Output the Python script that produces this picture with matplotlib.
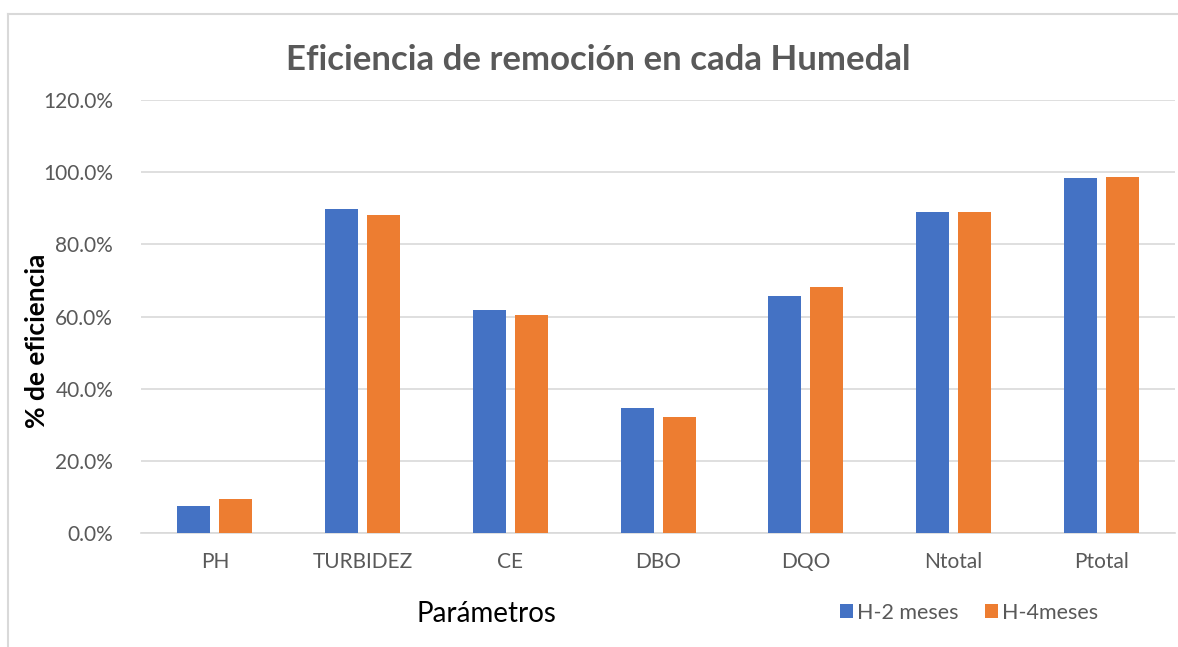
import numpy as np
import matplotlib.pyplot as plt
from matplotlib.lines import Line2D
from matplotlib.ticker import FuncFormatter

categories = ["PH", "TURBIDEZ", "CE", "DBO", "DQO", "Ntotal", "Ptotal"]
h2_meses = [7.5, 89.7, 61.8, 34.6, 65.8, 89.1, 98.3]
h4_meses = [9.3, 88.1, 60.4, 32.2, 68.3, 88.9, 98.6]
series_names = ["H-2 meses", "H-4meses"]

plt.rcParams['font.family'] = ['Lato', 'DejaVu Sans']
gray = "#595959"

fig = plt.figure(figsize=(11.78, 6.47), dpi=100)
ax = fig.add_axes([0.1197, 0.1762, 0.878, 0.6692])

x = np.arange(len(categories))
w = 0.224
ax.bar(x - 0.142, np.array(h2_meses) / 100, w, color="#4472C4", label=series_names[0], zorder=3)
ax.bar(x + 0.142, np.array(h4_meses) / 100, w, color="#ED7D31", label=series_names[1], zorder=3)

ax.set_ylim(0, 1.2)
ax.set_xlim(-0.5, len(categories) - 0.5)
ax.set_yticks(np.arange(0, 1.21, 0.2))
ax.yaxis.set_major_formatter(FuncFormatter(lambda v, p: "{:.1f}%".format(v * 100)))
ax.grid(axis="y", color="#d9d9d9", linewidth=1.2, zorder=0)
ax.set_xticks(x)
ax.set_xticklabels(categories)
ax.tick_params(axis="both", length=0, labelsize=15, labelcolor=gray)
ax.tick_params(axis="x", pad=14)
ax.tick_params(axis="y", pad=20)
for s in ["top", "right", "left"]:
    ax.spines[s].set_visible(False)
ax.spines["bottom"].set_color("#d9d9d9")
ax.spines["bottom"].set_linewidth(1.2)

fig.text(0.508, 0.907, "Eficiencia de remoción en cada Humedal", ha="center", va="center",
         fontsize=25, fontweight="bold", color=gray)
fig.text(0.031, 0.474, "% de eficiencia", rotation=90, ha="center", va="center", fontsize=19,
         fontweight="bold", color="black")
fig.text(0.413, 0.051, "Parámetros", ha="center", va="center", fontsize=20, color="black")

ax.legend(loc="center", bbox_to_anchor=(0.8226, 0.053), bbox_transform=fig.transFigure,
          ncol=2, frameon=False, fontsize=15.5, handlelength=0.6, handleheight=0.6,
          columnspacing=1.2, handletextpad=0.2, labelcolor=gray)

x0 = 8 / 1178
y0 = 1 - 14 / 647
fig.lines.append(Line2D([x0, x0], [0, y0], transform=fig.transFigure, color="#d9d9d9", linewidth=1.5))
fig.lines.append(Line2D([x0, 1], [y0, y0], transform=fig.transFigure, color="#d9d9d9", linewidth=1.5))

fig.savefig("out.png", dpi=100)
